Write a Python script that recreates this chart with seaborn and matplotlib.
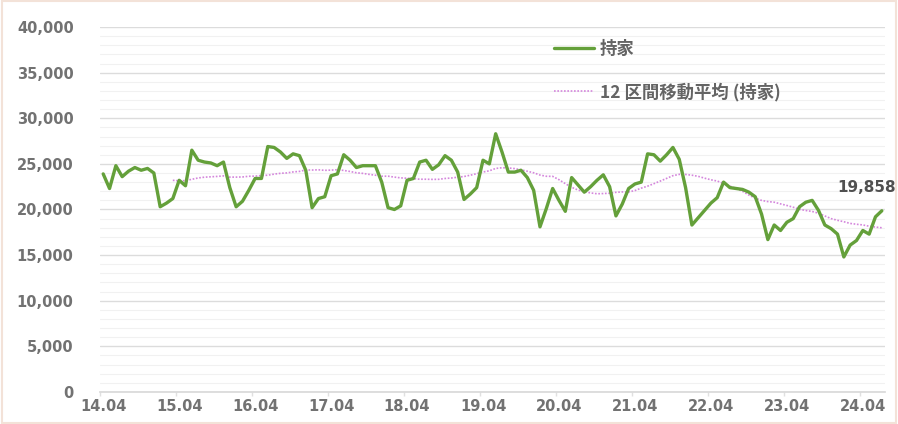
import numpy as np
import pandas as pd
import seaborn as sns
import matplotlib.pyplot as plt
from matplotlib.patches import Rectangle
from matplotlib.ticker import MultipleLocator, FuncFormatter

# Monthly owner-occupied housing starts (持家), 2014.04 - 2024.07
holding = [
    23900, 22300, 24800, 23600, 24200, 24600, 24300, 24500, 24000, 20300, 20700, 21200,
    23200, 22600, 26500, 25400, 25200, 25100, 24800, 25200, 22400, 20300, 20900, 22100,
    23400, 23400, 26900, 26800, 26300, 25600, 26100, 25900, 24300, 20200, 21200, 21400,
    23700, 23900, 26000, 25400, 24600, 24800, 24800, 24800, 23000, 20200, 20000, 20400,
    23200, 23400, 25200, 25400, 24400, 24900, 25900, 25400, 24100, 21100, 21700, 22400,
    25400, 25000, 28300, 26300, 24100, 24100, 24300, 23500, 22100, 18100, 20100, 22300,
    21000, 19800, 23500, 22700, 21900, 22500, 23200, 23800, 22500, 19300, 20600, 22300,
    22800, 23000, 26100, 26000, 25300, 26000, 26800, 25500, 22400, 18300, 19100, 19900,
    20700, 21300, 23000, 22400, 22300, 22200, 21900, 21400, 19500, 16700, 18300, 17700,
    18600, 19000, 20300, 20800, 21000, 19900, 18300, 17900, 17300, 14800, 16100, 16600,
    17700, 17300, 19200, 19858,
]
year_labels = ["14.04", "15.04", "16.04", "17.04", "18.04", "19.04",
               "20.04", "21.04", "22.04", "23.04", "24.04"]
series_name = "持家"
ma_name = "12 区間移動平均 (持家)"
ma_window = 12

df = pd.DataFrame({"idx": np.arange(len(holding)), "value": holding})
df["ma"] = df["value"].rolling(ma_window).mean()

sns.set_theme(style="white")
plt.rcParams["font.family"] = ["DejaVu Sans"]

fig = plt.figure(figsize=(8.98, 4.24), dpi=100)
ax = fig.add_axes([0.1114, 0.0755, 0.8741, 0.8608])

# light frame around the chart area
fig.patches.append(Rectangle((0.002, 0.003), 0.996, 0.994, transform=fig.transFigure,
                             fill=False, edgecolor="#f3e2d8", linewidth=1.5))

sns.lineplot(data=df, x="idx", y="value", ax=ax, color="#64a03a", linewidth=2.4,
             label=series_name, zorder=3)
sns.lineplot(data=df.dropna(), x="idx", y="ma", ax=ax, color="#d486dc", linewidth=1.2,
             linestyle=(0, (1, 1.0)), label=ma_name, zorder=2)

ax.set_xlim(-0.5, len(holding) - 0.5)
ax.set_ylim(0, 40000)

# gridlines
ax.yaxis.set_major_locator(MultipleLocator(5000))
ax.yaxis.set_minor_locator(MultipleLocator(1000))
ax.grid(axis="y", which="major", color="#dcdcdc", linewidth=1.0)
ax.grid(axis="y", which="minor", color="#f1f1f1", linewidth=0.8)
ax.set_axisbelow(True)

ax.yaxis.set_major_formatter(FuncFormatter(lambda v, p: f"{int(v):,}"))
ax.set_xticks(np.arange(0, len(holding), 12))
ax.set_xticklabels(year_labels)
ax.set_xticks(np.arange(-0.5, len(holding), 12), minor=True)

for lab in ax.get_xticklabels() + ax.get_yticklabels():
    lab.set_fontweight("bold")
    lab.set_color("#727272")
    lab.set_fontsize(10.5)
ax.tick_params(axis="x", which="major", length=0, pad=5)
ax.tick_params(axis="x", which="minor", length=3, color="#e0e0e0", bottom=True)
ax.tick_params(axis="y", which="both", length=0, pad=19)

for side in ["top", "right", "left"]:
    ax.spines[side].set_visible(False)
ax.spines["bottom"].set_color("#d9d9d9")
ax.set_xlabel("")
ax.set_ylabel("")

# data label on the last point
ax.annotate(f"{holding[-1]:,}", xy=(len(holding) - 1, holding[-1]),
            xytext=(-45, 23), textcoords="offset pixels", ha="left", va="center",
            fontsize=11, fontweight="bold", color="#505050", annotation_clip=False)

leg = ax.legend(loc="upper left", bbox_to_anchor=(547 / 898, 1 - 33 / 424),
                bbox_transform=fig.transFigure, frameon=False, handlelength=2.3,
                handletextpad=0.35, labelspacing=1.4, borderaxespad=0,
                prop={"family": ["Noto Sans CJK JP", "DejaVu Sans"], "size": 12.5,
                      "weight": "bold"})
for t in leg.get_texts():
    t.set_color("#646464")

fig.savefig("out.png", dpi=100)
